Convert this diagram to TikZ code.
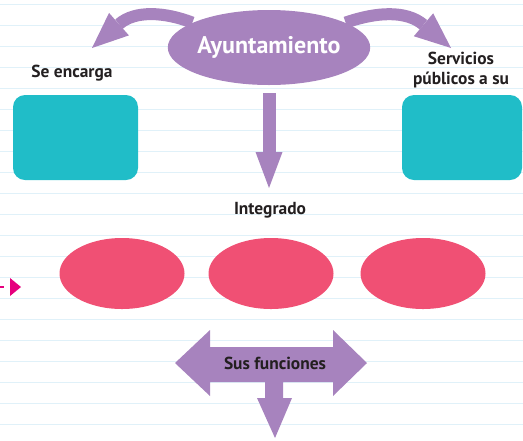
\documentclass[tikz,border=0pt]{standalone}
\usepackage{fontspec}
\setmainfont{PT Sans}
\usepackage{tikz}
\usetikzlibrary{
    arrows.meta,      % For arrow tips
    shapes.geometric, % For ellipse nodes
}

\definecolor{ayPurple}{HTML}{A783BE}
\definecolor{boxTeal}{HTML}{20BDC8}
\definecolor{ovalPink}{HTML}{F05074}
\definecolor{dotPink}{HTML}{E6007E}
\definecolor{ruleBlue}{HTML}{E0F1F9}
\definecolor{labelDark}{HTML}{231F20}

\begin{document}
\begin{tikzpicture}[
    x=0.5pt, y=-0.5pt, % one unit = one pixel, y going down
    ruled/.style={draw=ruleBlue, line width=0.5pt}, % Lines of the paper
    mainoval/.style={ellipse, fill=ayPurple, minimum width=85.5pt, minimum height=37.5pt,
        inner sep=0pt, text=white, font=\bfseries\fontsize{12}{14}\selectfont},
    tealbox/.style={rectangle, rounded corners=6pt, fill=boxTeal, inner sep=0pt,
        minimum height=42.5pt},
    pinkoval/.style={ellipse, fill=ovalPink, minimum width=62.5pt, minimum height=35.5pt,
        inner sep=0pt},
    labelstyle/.style={text=labelDark, font=\bfseries\fontsize{8.7}{10}\selectfont,
        align=center, inner sep=0pt},
    curvearrow/.style={draw=ayPurple, line width=6pt,
        -{Triangle[width=15pt, length=18pt, line width=0pt]}},
    downarrow/.style={draw=ayPurple, line width=6.5pt,
        -{Triangle[width=13.5pt, length=18pt, line width=0pt]}},
    markarrow/.style={draw=dotPink, line width=0.8pt, dash pattern=on 2pt off 3pt,
        -{Triangle[width=9pt, length=5.5pt, line width=0pt]}}
]

    % Page and ruled lines
    \useasboundingbox (0,0) rectangle (523,440);
    \foreach \y in {4,25,...,424}
        \draw[ruled] (0,\y) -- (523,\y);

    % Top concept
    \node[mainoval] (ayto) at (269,47.5) {Ayuntamiento};

    % Labels
    \node[labelstyle] (encarga) at (72,73) {Se encarga};
    \node[labelstyle] (servicios) at (461,70) {Servicios\\públicos a su};
    \node[labelstyle] (integrado) at (270,210) {Integrado};

    % Empty boxes
    \node[tealbox, minimum width=62.5pt] (boxL) at (75.5,137.5) {};
    \node[tealbox, minimum width=60pt] (boxR) at (462,137.5) {};

    % Empty ovals
    \node[pinkoval] (ovalA) at (122,273.5) {};
    \node[pinkoval] (ovalB) at (271,273.5) {};
    \node[pinkoval] (ovalC) at (423,273.5) {};

    % Arrows out of the top concept
    \coordinate (tipL) at (92,48);
    \coordinate (tipR) at (451,48);
    \coordinate (tipD) at (269,188);
    \draw[curvearrow] (ayto.162) .. controls (165,12) and (135,10) .. (tipL);
    \draw[curvearrow] (ayto.18) .. controls (376,12) and (406,10) .. (tipR);
    \draw[downarrow] ([yshift=-4pt]ayto.south) -- (tipD);

    % Small marker on the left
    \coordinate (markS) at (0,287);
    \coordinate (markE) at (21,287);
    \draw[markarrow] (markS) -- (markE);

    % Double arrow with a foot
    \fill[ayPurple] (175,363) -- (210,330) -- (210,347) -- (333,347) -- (333,330)
        -- (367,363) -- (333,396) -- (333,382) -- (283,382) -- (283,398)
        -- (292,398) -- (275,438) -- (257,398) -- (265,398) -- (265,382)
        -- (210,382) -- (210,396) -- cycle;
    \node[labelstyle] (funciones) at (275,363) {Sus funciones};

\end{tikzpicture}
\end{document}
